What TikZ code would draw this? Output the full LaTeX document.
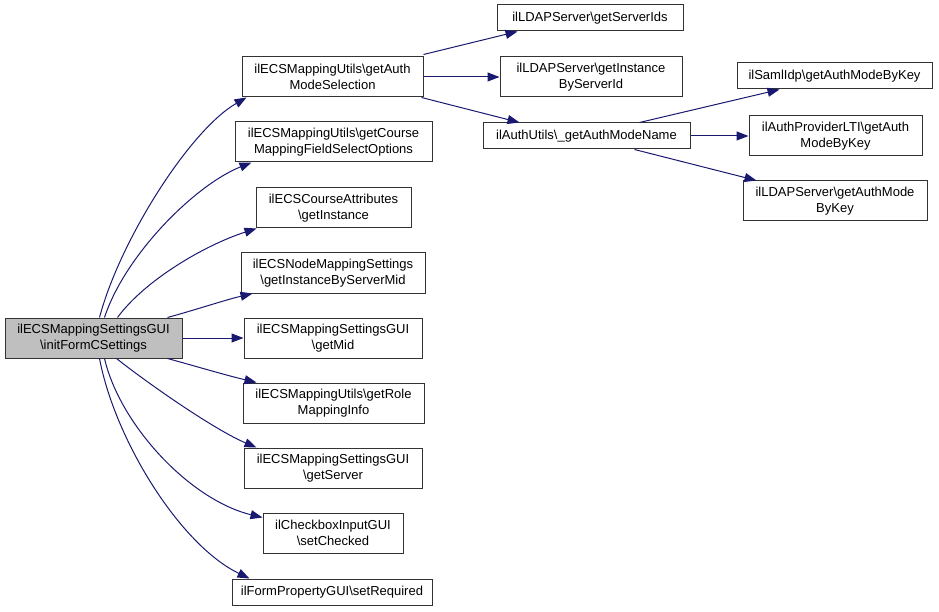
\documentclass[tikz,border=0pt]{standalone}
\usepackage{fontspec}
\setmainfont{Liberation Sans}
\usetikzlibrary{arrows.meta,calc}
\definecolor{edgeblue}{HTML}{191970}
\newcommand{\bs}{\textbackslash}
\begin{document}
\begin{tikzpicture}[x=1pt,y=-1pt,
  box/.style={draw=black!80,line width=1pt,fill=white,inner sep=0pt,align=center,
    font=\fontsize{13}{16}\selectfont},
  rootbox/.style={box,fill=black!25},
  edge/.style={draw=edgeblue,line width=1pt,-{Triangle[length=12pt,width=9pt]}}]
\useasboundingbox (0,0) rectangle (939,612);
% nodes
\node[rootbox,minimum width=177pt,minimum height=40pt] (root) at (93.5,338) {ilECSMappingSettingsGUI\\\bs initFormCSettings};
\node[box,minimum width=181pt,minimum height=40pt] (n1) at (332.5,77) {ilECSMappingUtils\bs getAuth\\ModeSelection};
\node[box,minimum width=197pt,minimum height=40pt] (n2) at (333.5,142) {ilECSMappingUtils\bs getCourse\\MappingFieldSelectOptions};
\node[box,minimum width=155pt,minimum height=40pt] (n3) at (333.5,208) {ilECSCourseAttributes\\\bs getInstance};
\node[box,minimum width=184pt,minimum height=40pt] (n4) at (333,273) {ilECSNodeMappingSettings\\\bs getInstanceByServerMid};
\node[box,minimum width=178pt,minimum height=40pt] (n5) at (333,338) {ilECSMappingSettingsGUI\\\bs getMid};
\node[box,minimum width=181pt,minimum height=40pt] (n6) at (333.5,403) {ilECSMappingUtils\bs getRole\\MappingInfo};
\node[box,minimum width=178pt,minimum height=40pt] (n7) at (333,468) {ilECSMappingSettingsGUI\\\bs getServer};
\node[box,minimum width=140pt,minimum height=40pt] (n8) at (333,533) {ilCheckboxInputGUI\\\bs setChecked};
\node[box,minimum width=200pt,minimum height=26pt] (n9) at (332,592) {ilFormPropertyGUI\bs setRequired};
\node[box,minimum width=186pt,minimum height=26pt] (m1) at (590,18) {ilLDAPServer\bs getServerIds};
\node[box,minimum width=182pt,minimum height=40pt] (m2) at (591,77) {ilLDAPServer\bs getInstance\\ByServerId};
\node[box,minimum width=207pt,minimum height=26pt] (m3) at (586.5,136) {ilAuthUtils\bs\_getAuthModeName};
\node[box,minimum width=195pt,minimum height=26pt] (k1) at (834.5,76) {ilSamlIdp\bs getAuthModeByKey};
\node[box,minimum width=173pt,minimum height=40pt] (k2) at (835.5,136) {ilAuthProviderLTI\bs getAuth\\ModeByKey};
\node[box,minimum width=184pt,minimum height=40pt] (k3) at (835,201) {ilLDAPServer\bs getAuthMode\\ByKey};
% edges from root
\draw[edge] ($(root.north west)+(95,0)$) .. controls (120,240) and (190,130) .. ($(n1.south west)+(5,0)$);
\draw[edge] ($(root.north west)+(100,0)$) .. controls (125,255) and (195,185) .. ($(n2.south west)+(17,0)$);
\draw[edge] ($(root.north west)+(113,0)$) .. controls (145,280) and (205,245) .. ($(n3.south west)+(1,0)$);
\draw[edge] ($(root.north west)+(163,0)$) .. controls (195,310) and (225,300) .. ($(n4.south west)+(12,0)$);
\draw[edge] (root.east) -- (n5.west);
\draw[edge] ($(root.south west)+(163,0)$) .. controls (195,366) and (225,375) .. ($(n6.north west)+(14,0)$);
\draw[edge] ($(root.south west)+(112,0)$) .. controls (150,385) and (215,430) .. ($(n7.north west)+(13,0)$);
\draw[edge] ($(root.south west)+(100,0)$) .. controls (120,425) and (190,500) .. ($(n8.north west)+(0,5)$);
\draw[edge] ($(root.south west)+(95,0)$) .. controls (115,440) and (180,545) .. ($(n9.north west)+(18,0)$);
% level 2
\draw[edge] ($(n1.north east)+(0,-2)$) -- ($(m1.south west)+(21,0)$);
\draw[edge] (n1.east) -- (m2.west);
\draw[edge] ($(n1.south east)+(-2,0)$) -- ($(m3.north west)+(37,0)$);
% level 3
\draw[edge] ($(m3.north west)+(157,0)$) -- ($(k1.south west)+(43,0)$);
\draw[edge] (m3.east) -- (k2.west);
\draw[edge] ($(m3.south west)+(152,0)$) -- ($(k3.north west)+(14,0)$);
\end{tikzpicture}
\end{document}
